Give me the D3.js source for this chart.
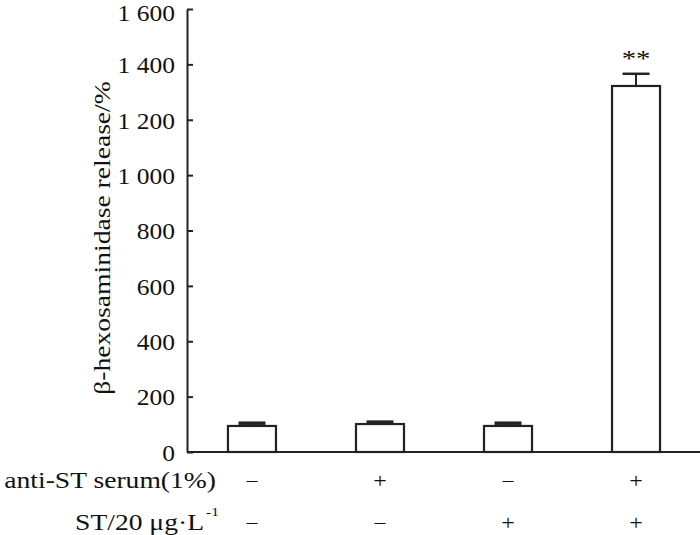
<!DOCTYPE html>
<html>
<head>
<meta charset="utf-8">
<script src="https://cdn.jsdelivr.net/npm/d3@7"></script>
<style>
  body { margin: 0; background: #fff; }
  text { font-family: "Liberation Serif", "Times New Roman", serif; fill: #111; }
</style>
</head>
<body>
<svg id="chart"></svg>
<script>
var groups = ["g1", "g2", "g3", "g4"];
var values = [94, 101, 94, 1322];
var errors = [10, 7, 10, 44];
var serumRow = ["\u2212", "+", "\u2212", "+"];
var stRow = ["\u2212", "\u2212", "+", "+"];
var yTicks = [0, 200, 400, 600, 800, 1000, 1200, 1400, 1600];
var marks = ["", "", "", "**"];

var width = 700, height = 535;
var margin = {left: 187, right: 0, top: 9, bottom: 83};
var stretch = 1.2;   // text in the original is set a bit wide

var svg = d3.select("#chart").attr("width", width).attr("height", height);

var x = d3.scaleBand().domain(groups).range([187, 701]).paddingInner(0.625).paddingOuter(0.32);
var y = d3.scaleLinear().domain([0, 1600]).range([height - margin.bottom, margin.top]);

function cx(i) { return x(groups[i]) + x.bandwidth() / 2; }

// place a text with a horizontal stretch
function label(px, py, str, size, anchor, rot) {
  return svg.append("text")
    .attr("transform", "translate(" + px + "," + py + ")" + (rot ? " rotate(" + rot + ")" : "") + " scale(" + stretch + ",1)")
    .attr("text-anchor", anchor || "start")
    .attr("font-size", size)
    .text(str);
}

// axes
var yAxis = d3.axisLeft(y).tickValues(yTicks).tickSizeInner(-6).tickSizeOuter(0)
  .tickFormat(function(d) { return d >= 1000 ? Math.floor(d / 1000) + " " + d3.format("03d")(d % 1000) : d; });

var gy = svg.append("g").attr("transform", "translate(" + margin.left + ",0)").call(yAxis);
gy.select(".domain").attr("stroke", "#222").attr("stroke-width", 2);
gy.selectAll(".tick line").attr("stroke", "#222").attr("stroke-width", 2);
gy.selectAll(".tick text")
  .attr("x", -12 / 1.11)
  .attr("dy", function(d) { return d == 1600 ? "0.5em" : "0.36em"; })
  .attr("transform", "scale(1.11,1)")
  .attr("font-size", 23).attr("fill", "#111")
  .style("font-family", "'Liberation Serif', serif");

svg.append("line")
  .attr("x1", margin.left).attr("x2", width)
  .attr("y1", y(0)).attr("y2", y(0))
  .attr("stroke", "#222").attr("stroke-width", 2);

// bars
svg.selectAll(".bar").data(values).enter().append("rect")
  .attr("x", function(d, i) { return x(groups[i]); })
  .attr("y", function(d) { return y(d); })
  .attr("width", x.bandwidth())
  .attr("height", function(d) { return y(0) - y(d); })
  .attr("fill", "#fff").attr("stroke", "#222").attr("stroke-width", 2.2);

// error bars
var capW = 27;
svg.selectAll(".err").data(values).enter().append("line")
  .attr("x1", function(d, i) { return cx(i); })
  .attr("x2", function(d, i) { return cx(i); })
  .attr("y1", function(d) { return y(d); })
  .attr("y2", function(d, i) { return y(d + errors[i]); })
  .attr("stroke", "#222").attr("stroke-width", 2);
svg.selectAll(".cap").data(values).enter().append("line")
  .attr("x1", function(d, i) { return cx(i) - capW / 2; })
  .attr("x2", function(d, i) { return cx(i) + capW / 2; })
  .attr("y1", function(d, i) { return y(d + errors[i]); })
  .attr("y2", function(d, i) { return y(d + errors[i]); })
  .attr("stroke", "#222").attr("stroke-width", function(d, i) { return errors[i] < 20 ? 3.5 : 2.5; });

// significance
marks.forEach(function(m, i) {
  if (m) label(cx(i), y(values[i] + errors[i]) - 8, m, 24, "middle");
});

// condition rows
var rowY1 = 488, rowY2 = 530;
label(216, rowY1, "anti-ST serum(1%)", 23, "end");
label(204, rowY2, "ST/20 \u03bcg\u00b7L", 23, "end");
label(206, rowY2 - 14, "-1", 13, "start");

serumRow.forEach(function(s, i) { label(cx(i), rowY1, s, 20, "middle"); });
stRow.forEach(function(s, i) { label(cx(i), rowY2, s, 20, "middle"); });

// y title
label(110, 238, "\u03b2-hexosaminidase release/%", 23, "middle", -90);
</script>
</body>
</html>
